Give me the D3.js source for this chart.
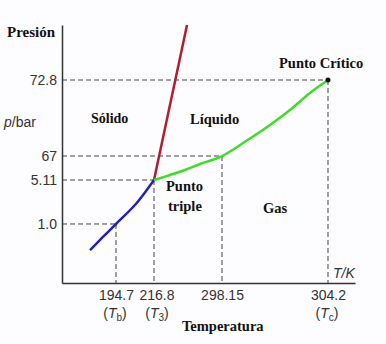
<!DOCTYPE html>
<html><head><meta charset="utf-8">
<script src="https://cdn.jsdelivr.net/npm/d3@7"></script>
<style>body{margin:0;background:#fff}svg{display:block}</style>
</head><body>
<script>
// ---- data ----
const xTicks = [194.7, 216.8, 298.15, 304.2];
const xTickLabels = ["194.7", "216.8", "298.15", "304.2"];
const xSubLabels = [["T","b"], ["T","3"], null, ["T","c"]];
const yTicks = [1.0, 5.11, 67, 72.8];
const yTickLabels = ["1.0", "5.11", "67", "72.8"];
const xDomain = [160, 194.7, 216.8, 298.15, 304.2, 310];
const yDomain = [0, 1.0, 5.11, 67, 72.8, 80];
// schematic positions of the break points (fractions of axis length)
const xFrac = [0, 0.1843, 0.314, 0.5461, 0.9078, 1];
const yFrac = [0, 0.2287, 0.3992, 0.4922, 0.7868, 1];

const sublimation = [[178.0,0.559],[186.3,0.78],[194.7,1.0],[205.7,2.775],[212.6,4.18],[216.8,5.11]];
const fusion = [[216.8,5.11],[256.3,80]];
const vaporization = [[216.8,5.11],[235.9,18.0],[253.9,30.9],[271.8,46.4],[298.15,67],[299.52,68.14],[300.89,69.37],[302.03,70.51],[303.17,71.81],[304.2,72.8]];
const criticalPoint = [304.2, 72.8];
// dashed guide lines: [T, p]
const guides = [[194.7,1.0],[216.8,5.11],[298.15,67],[304.2,72.8]];

// ---- layout ----
const W = 386, H = 344;
const L = 62, R = 355, T = 25, B = 283;
const svg = d3.select("body").append("svg").attr("width", W).attr("height", H);
svg.append("rect").attr("width", W).attr("height", H).attr("fill", "#fdfcfe");

const x = d3.scaleLinear().domain(xDomain).range(xFrac.map(f => L + f*(R-L)));
const y = d3.scaleLinear().domain(yDomain).range(yFrac.map(f => B - f*(B-T)));

const serif = "'Liberation Serif','Times New Roman',serif";
const sans = "'Liberation Sans',Arial,sans-serif";

// dashed guides
const g = svg.append("g").attr("stroke", "#444").attr("stroke-width", 1).attr("stroke-dasharray", "5,3");
guides.forEach(([t,p]) => {
  g.append("line").attr("x1", x(xDomain[0])).attr("x2", x(t)).attr("y1", y(p)).attr("y2", y(p));
  g.append("line").attr("x1", x(t)).attr("x2", x(t)).attr("y1", y(p)).attr("y2", y(yDomain[0]));
});

// axes
const ax = svg.append("g").attr("transform", `translate(0,${B})`)
  .call(d3.axisBottom(x).tickValues(xTicks).tickFormat((d,i) => xTickLabels[i]).tickSize(0).tickPadding(7));
const ay = svg.append("g").attr("transform", `translate(${L},0)`)
  .call(d3.axisLeft(y).tickValues(yTicks).tickFormat((d,i) => yTickLabels[i]).tickSize(0).tickPadding(5));
[ax, ay].forEach(a => {
  a.select(".domain").attr("stroke", "#333").attr("stroke-width", 1.5);
  a.selectAll("text").attr("font-family", sans).attr("font-size", 14).attr("fill", "#333");
});
ax.selectAll(".tick text").attr("dx", (d,i) => i === 1 ? 2.5 : 0);

// subscripts under x ticks
xSubLabels.forEach((s, i) => {
  if (!s) return;
  const t = svg.append("text").attr("x", x(xTicks[i]) + (i === 1 ? 3 : -1)).attr("y", 318)
    .attr("text-anchor", "middle").attr("font-family", sans).attr("font-size", 14).attr("fill", "#333");
  t.append("tspan").text("(");
  t.append("tspan").attr("font-style", "italic").text(s[0]);
  t.append("tspan").attr("font-size", 10).attr("dy", 3).text(s[1]);
  t.append("tspan").attr("dy", -3).text(")");
});

// curves
const smooth = d3.line().x(d => x(d[0])).y(d => y(d[1])).curve(d3.curveCatmullRom);
const straight = d3.line().x(d => x(d[0])).y(d => y(d[1]));
svg.append("path").attr("d", smooth(sublimation)).attr("fill", "none").attr("stroke", "#2323b0").attr("stroke-width", 2.5);
svg.append("path").attr("d", straight(fusion)).attr("fill", "none").attr("stroke", "#b01e2e").attr("stroke-width", 2.5);
svg.append("path").attr("d", smooth(vaporization)).attr("fill", "none").attr("stroke", "#3fdc2a").attr("stroke-width", 2.5);
svg.append("circle").attr("cx", x(criticalPoint[0])).attr("cy", y(criticalPoint[1])).attr("r", 2.5).attr("fill", "#111");

// labels
function lab(txt, xx, yy, size) {
  return svg.append("text").attr("x", xx).attr("y", yy)
    .attr("font-family", serif).attr("font-size", size || 14.5)
    .attr("font-weight", "bold").attr("fill", "#111").text(txt);
}
lab("Presión", 7, 37, 15);
lab("Sólido", 91, 123, 14);
lab("Líquido", 190, 124);
lab("Punto Crítico", 279, 68);
lab("Punto", 166, 191);
lab("triple", 168, 211);
lab("Gas", 263, 213);
lab("Temperatura", 182, 331);

const pb = svg.append("text").attr("x", 4).attr("y", 127).attr("font-family", sans).attr("font-size", 14).attr("fill", "#333");
pb.append("tspan").attr("font-style", "italic").text("p");
pb.append("tspan").text("/bar");
svg.append("text").attr("x", 333).attr("y", 278).attr("font-family", sans).attr("font-size", 14)
  .attr("fill", "#333").attr("font-style", "italic").text("T/K");
</script>
</body></html>
